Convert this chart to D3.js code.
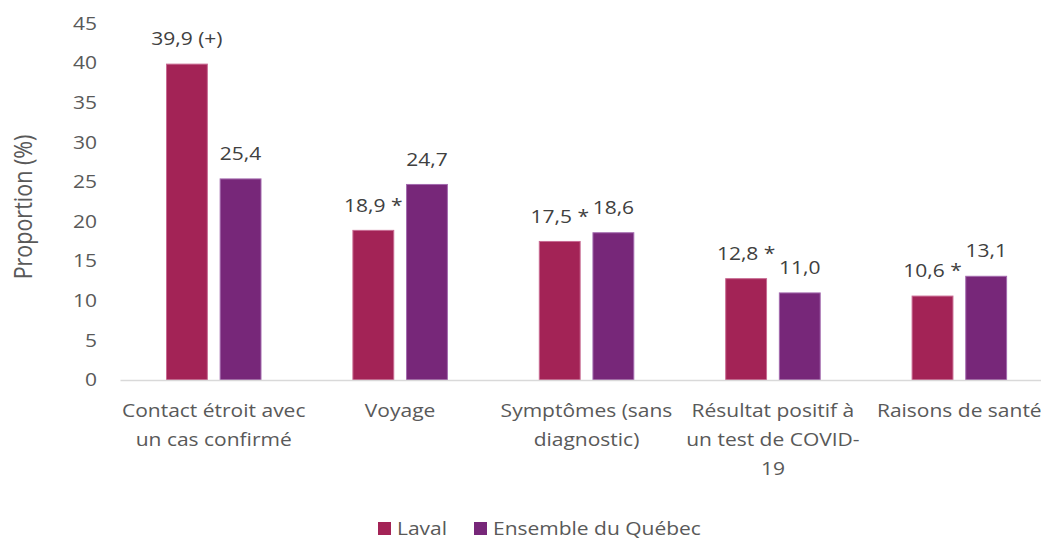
<!DOCTYPE html>
<html>
<head>
<meta charset="utf-8">
<script src="https://cdn.jsdelivr.net/npm/d3@7"></script>
<style>
  body { margin: 0; background: #fff; }
  svg text { font-family: "Open Sans", sans-serif; }
</style>
</head>
<body>
<div class="chart"></div>
<script>
(function(){
    var categories = [
        ["Contact étroit avec", "un cas confirmé"],
        ["Voyage"],
        ["Symptômes (sans", "diagnostic)"],
        ["Résultat positif à", "un test de COVID-", "19"],
        ["Raisons de santé"]
    ];
    var series = ["Laval", "Ensemble du Québec"];
    var laval = [39.9, 18.9, 17.5, 12.8, 10.6];
    var quebec = [25.4, 24.7, 18.6, 11.0, 13.1];
    var lavalLabels = ["39,9 (+)", "18,9 *", "17,5 *", "12,8 *", "10,6 *"];
    var quebecLabels = ["25,4", "24,7", "18,6", "11,0", "13,1"];
    var yTicks = [0, 5, 10, 15, 20, 25, 30, 35, 40, 45];
    var colors = ["#A32356", "#772779"];
    var strokes = ["#C86A92", "#A36AAE"];

    var width = 1041, height = 540;
    var fs = "17.5px";
    var sx = 1.2; // the source picture is a bit stretched horizontally

    var svg = d3.select(".chart").append("svg")
        .attr("width", width)
        .attr("height", height);

    // puts a text at (px, py) with the horizontal stretch
    function place(sel, px, py){
        sel.attr("transform", function(d, i){
            var a = typeof px === "function" ? px(d, i) : px;
            var b = typeof py === "function" ? py(d, i) : py;
            return "translate(" + a + "," + b + ") scale(" + sx + ",1)";
        });
        return sel;
    }

    var idx = categories.map(function(d, i){ return i; });

    var x = d3.scaleBand().domain(idx).range([120.5, 1052.5]).paddingInner(0).paddingOuter(0);
    var x1 = d3.scaleBand().domain([0, 1]).range([45.5, 141]).paddingInner(0.22);
    var y = d3.scaleLinear().domain([0, 45]).range([380, 23.75]);

    // Y tick labels
    var ticks = svg.append("g").selectAll("text").data(yTicks).enter()
        .append("text")
        .attr("dy", "0.35em")
        .attr("text-anchor", "end")
        .attr("fill", "#595959")
        .style("font-size", fs)
        .text(function(d){ return d; });
    place(ticks, 97, function(d){ return y(d); });

    // Y axis title
    svg.append("text")
        .attr("transform", "translate(32,207) rotate(-90) scale(1," + sx + ")")
        .attr("text-anchor", "middle")
        .attr("fill", "#595959")
        .style("font-size", "21.5px")
        .text("Proportion (%)");

    // Bars
    var values = [laval, quebec];
    var labels = [lavalLabels, quebecLabels];
    var groups = svg.append("g").selectAll("g").data(idx).enter()
        .append("g")
        .attr("transform", function(d){ return "translate(" + x(d) + ",0)"; });

    groups.selectAll("rect").data(function(i){ return [0, 1].map(function(s){ return {s: s, v: values[s][i]}; }); })
        .enter().append("rect")
        .attr("x", function(d){ return x1(d.s) + 0.5; })
        .attr("y", function(d){ return y(d.v); })
        .attr("width", x1.bandwidth() - 1)
        .attr("height", function(d){ return y(0) - y(d.v); })
        .attr("fill", function(d){ return colors[d.s]; })
        .attr("stroke", function(d){ return strokes[d.s]; })
        .attr("stroke-width", 1);

    // Data labels
    var lbl = groups.selectAll("text.lbl").data(function(i){ return [0, 1].map(function(s){ return {s: s, v: values[s][i], t: labels[s][i]}; }); })
        .enter().append("text")
        .attr("class", "lbl")
        .attr("dy", "0.35em")
        .attr("text-anchor", "middle")
        .attr("fill", "#404040")
        .style("font-size", fs)
        .text(function(d){ return d.t; });
    place(lbl, function(d){ return x1(d.s) + x1.bandwidth() / 2; }, function(d){ return y(d.v) - 25; });

    // X axis line
    svg.append("line")
        .attr("x1", 120.5).attr("x2", 1041)
        .attr("y1", 380.5).attr("y2", 380.5)
        .attr("stroke", "#D9D9D9")
        .attr("stroke-width", 1.5);

    // Category labels
    groups.each(function(i){
        var g = d3.select(this);
        categories[i].forEach(function(line, k){
            var t = g.append("text")
                .attr("dy", "0.35em")
                .attr("text-anchor", "middle")
                .attr("fill", "#595959")
                .style("font-size", fs)
                .text(line);
            place(t, x.bandwidth() / 2, 411 + k * 29);
        });
    });

    // Legend
    var legendX = [378, 474];
    var legend = svg.append("g").selectAll("g").data(series).enter()
        .append("g")
        .attr("transform", function(d, i){ return "translate(" + legendX[i] + ",522)"; });
    legend.append("rect")
        .attr("width", 13).attr("height", 13)
        .attr("fill", function(d, i){ return colors[i]; });
    var lt = legend.append("text")
        .attr("dy", "0.35em")
        .attr("fill", "#595959")
        .style("font-size", fs)
        .text(function(d){ return d; });
    place(lt, 19, 6.5);
}());
</script>
</body>
</html>
